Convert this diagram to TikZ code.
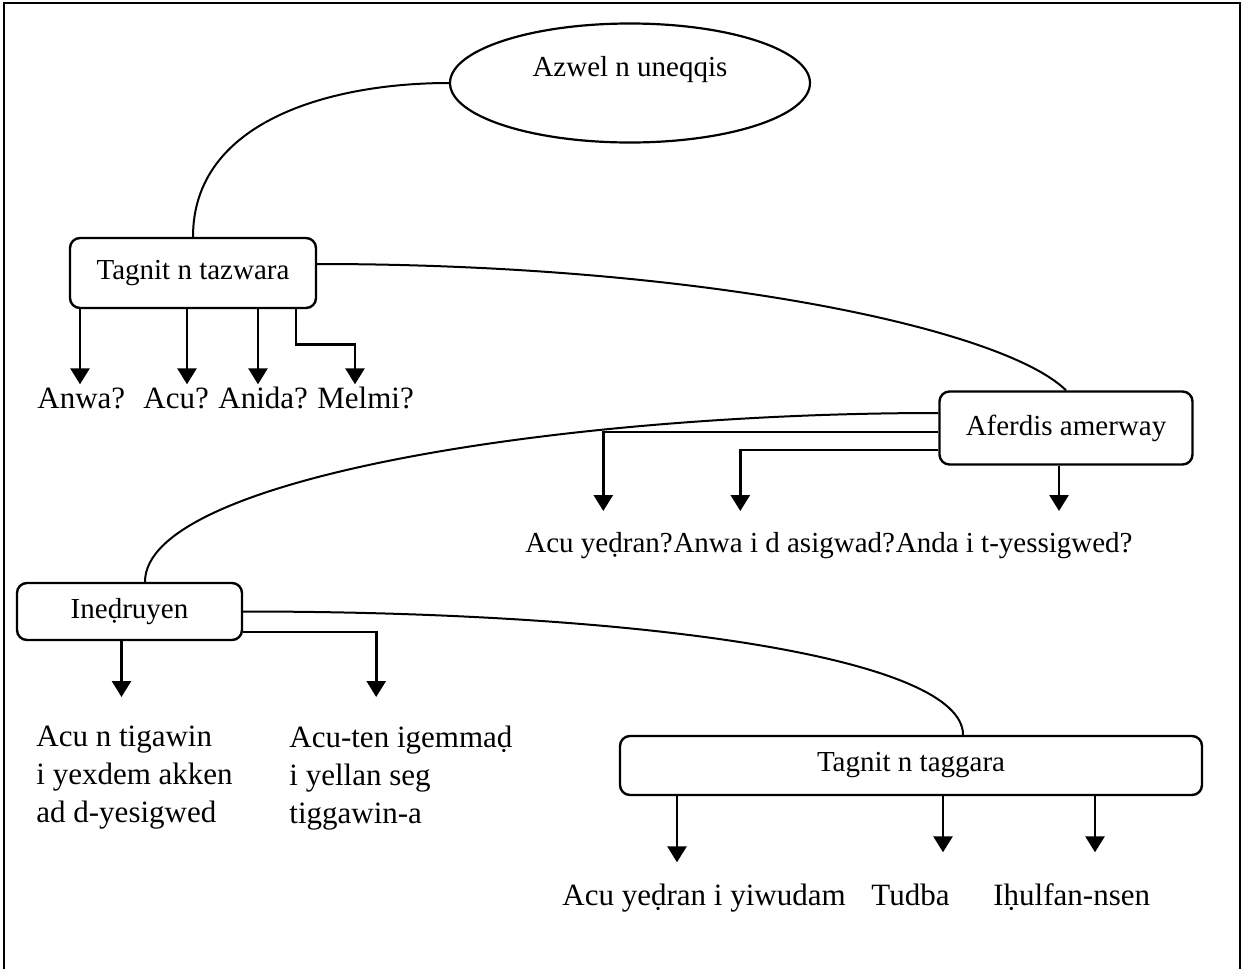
\documentclass[tikz,border=0pt]{standalone}
\usepackage{fontspec}
\setmainfont{Liberation Serif}
\usetikzlibrary{arrows.meta,shapes.geometric,positioning}

\begin{document}
\begin{tikzpicture}[x=0.5pt,y=-0.5pt,font=\fontsize{14.5}{17}\selectfont]
        \tikzstyle{box}=[draw, rounded corners=5pt, line width=1.2pt, inner sep=0pt]
        \tikzstyle{txt}=[font=\fontsize{15.5}{19}\selectfont, inner sep=0pt, text height=0.7em, text depth=0.25em, anchor=base west]
        \tikzstyle{qtxt}=[txt, font=\fontsize{14.5}{17}\selectfont]
        \tikzstyle{block}=[font=\fontsize{15.5}{19}\selectfont, inner sep=0pt, align=left, anchor=north west]
        \tikzstyle{link}=[line width=1pt]
        \tikzstyle{arr}=[-{Triangle[width=9.5pt,length=8pt]}, line width=1.4pt]
        \useasboundingbox (0,0) rectangle (1242,969);
        \draw[line width=1.1pt] (4,969) -- (4,3) -- (1240,3) -- (1240,969);
        % boxes
        \node[ellipse, draw, line width=1.1pt, minimum width=180pt, minimum height=59.5pt] (root) at (630,83) [label={[yshift=6.5pt]center:Azwel n uneqqis}] {};
        \node[box, minimum width=123pt, minimum height=35pt] (tazw) at (193,273) {Tagnit n tazwara};
        \node[box, minimum width=126.5pt, minimum height=36.5pt] (afer) at (1066,428) {Aferdis amerway};
        \node[box, minimum width=112.5pt, minimum height=28.5pt] (ined) at (129.5,611.5) {Ineḍruyen};
        \node[box, minimum width=291pt, minimum height=29.5pt] (tagg) at (911,765.5) {Tagnit n taggara};
        % questions
        \node[txt] (w1) at (37,408) {Anwa?};
        \node[txt] (w2) at (143,408) {Acu?};
        \node[txt] (w3) at (218,408) {Anida?};
        \node[txt] (w4) at (317,408) {Melmi?};
        \node[qtxt] (q1) at (525,552) {Acu yeḍran?};
        \node[qtxt, base right=0pt of q1] (q2) {Anwa i d asigwad?};
        \node[qtxt, base right=0pt of q2] (q3) {Anda i t-yessigwed?};
        \node[block] (c1) at (36,726) {Acu n tigawin\\i yexdem akken\\ad d-yesigwed};
        \node[block] (c2) at (289,726) {Acu-ten igemmaḍ\\i yellan seg\\tiggawin-a};
        \node[txt] (t1) at (562,905) {Acu yeḍran i yiwudam};
        \node[txt] (t2) at (871,905) {Tudba};
        \node[txt] (t3) at (993,905) {Iḥulfan-nsen};
        % links between boxes
        \draw[link] (root.west) to[out=180,in=90] (tazw.north);
        \draw[link] ([yshift=4.5pt]tazw.east) .. controls +(384,0) and +(-63,-62) .. (afer.north);
        \draw[link] ([yshift=7.5pt]afer.west) .. controls +(-380,0) and +(0,-103) .. ([xshift=7.75pt]ined.north);
        \draw[link] (ined.east) .. controls +(408,0) and +(0,-76) .. ([xshift=26pt]tagg.north);
        % arrows
        \draw[arr] ([xshift=-56.5pt]tazw.south) -- ([xshift=-56.5pt,yshift=4.65pt]tazw.south |- w1.north);
        \draw[arr] ([xshift=-3pt]tazw.south) -- ([xshift=-3pt,yshift=4.65pt]tazw.south |- w2.north);
        \draw[arr] ([xshift=32.5pt]tazw.south) -- ([xshift=32.5pt,yshift=4.65pt]tazw.south |- w3.north);
        \draw[arr] ([xshift=51.5pt]tazw.south) -- ++(0,35) -| ([xshift=81pt,yshift=4.65pt]tazw.south |- w4.north);
        \draw[arr] ([yshift=-2pt]afer.west) -| ([xshift=-167.5pt,yshift=13.3pt]afer.west |- q1.north);
        \draw[arr] ([yshift=-11pt]afer.west) -| ([xshift=-99pt,yshift=13.3pt]afer.west |- q2.north);
        \draw[arr] ([xshift=-3.5pt]afer.south) -- ([xshift=-3.5pt,yshift=13.3pt]afer.south |- q3.north);
        \draw[arr] ([xshift=-4pt]ined.south) -- ([xshift=-4pt,yshift=14.5pt]ined.south |- c1.north);
        \draw[arr] ([yshift=-10.25pt]ined.east) -| ([xshift=66.5pt,yshift=14.5pt]ined.east |- c2.north);
        \draw[arr] ([xshift=-117pt]tagg.south) -- ([xshift=-117pt,yshift=14.15pt]tagg.south |- t1.north);
        \draw[arr] ([xshift=16pt]tagg.south) -- ([xshift=16pt,yshift=19.15pt]tagg.south |- t2.north);
        \draw[arr] ([xshift=92pt]tagg.south) -- ([xshift=92pt,yshift=19.15pt]tagg.south |- t3.north);
\end{tikzpicture}
\end{document}
